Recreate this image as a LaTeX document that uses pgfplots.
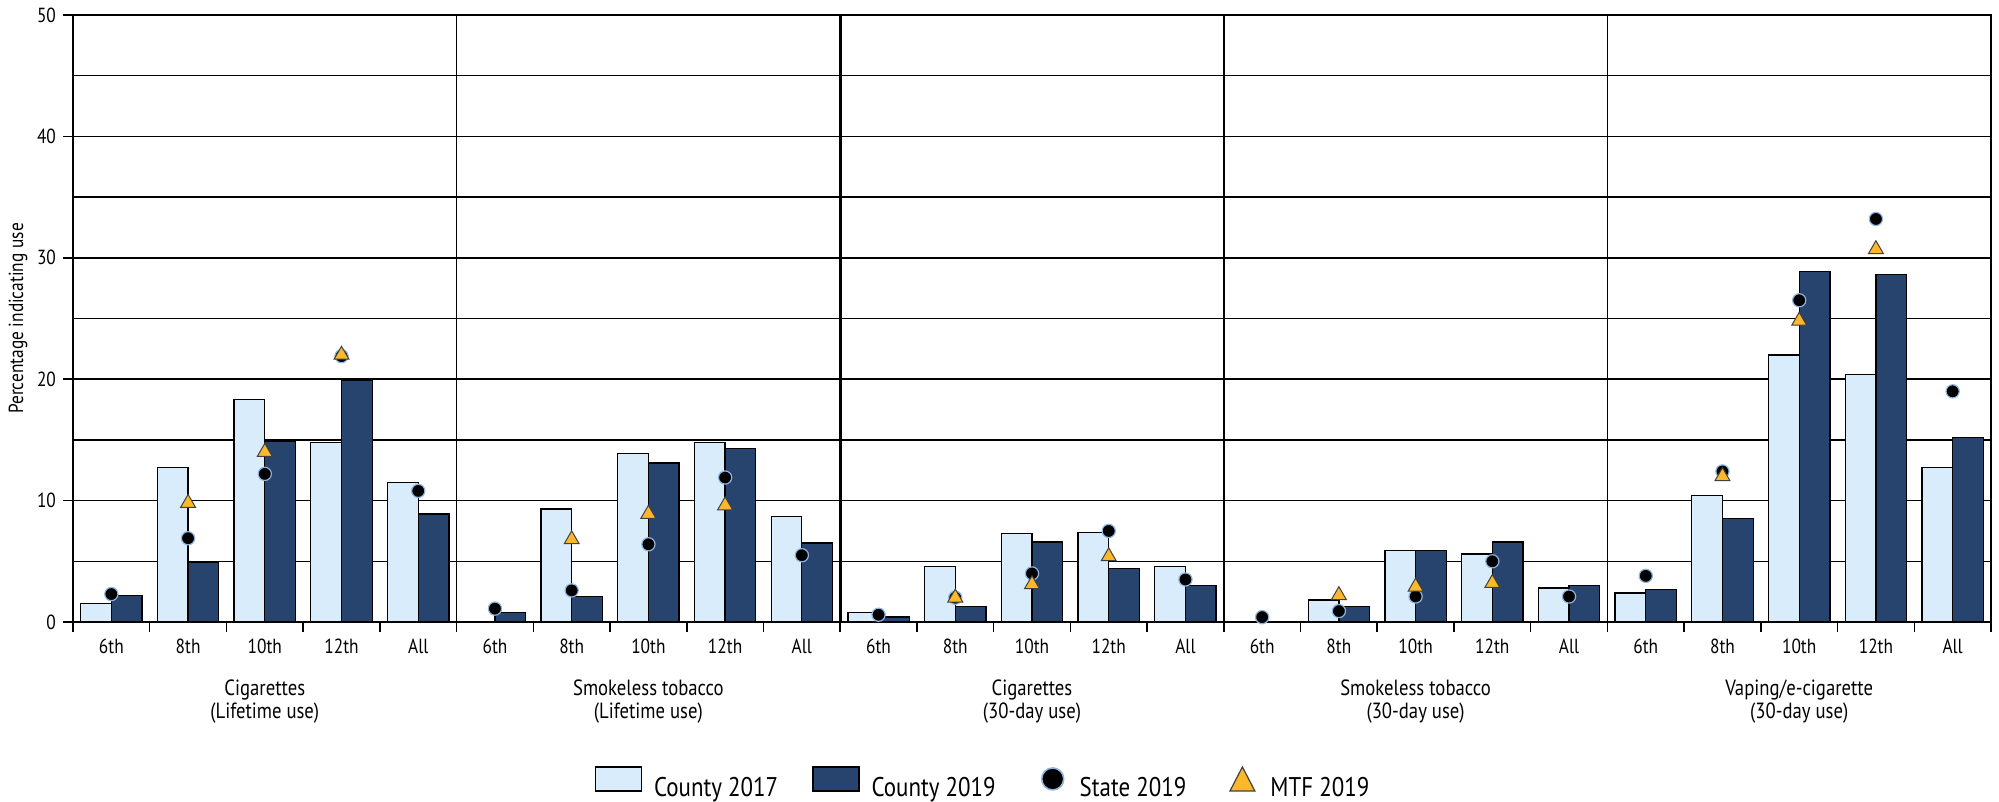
\documentclass[border=0pt]{standalone}
\usepackage{fontspec}
\setmainfont{PT Sans}[FakeStretch=0.85]
\usepackage{pgfplots}
\pgfplotsset{compat=1.18}
\usepackage{pgfplotstable}

\definecolor{cty17}{HTML}{D9ECFC}
\definecolor{cty19}{HTML}{26446E}
\definecolor{mtfor}{HTML}{FBB82B}
\definecolor{ring}{HTML}{8FB4DF}

% x: category index (5 grades x 5 substances)
\pgfplotstableread{
x  c17   c19   state mtf
0  1.5   2.2   2.3   nan
1  12.7  4.9   6.9   9.8
2  18.3  14.9  12.2  14.0
3  14.8  19.9  21.9  22.0
4  11.5  8.9   10.8  nan
5  nan   0.8   1.1   nan
6  9.3   2.1   2.6   6.8
7  13.9  13.1  6.4   8.9
8  14.8  14.3  11.9  9.6
9  8.7   6.5   5.5   nan
10 0.8   0.4   0.6   nan
11 4.6   1.3   2.0   2.0
12 7.3   6.6   4.0   3.1
13 7.4   4.4   7.5   5.4
14 4.6   3.0   3.5   nan
15 nan   nan   0.4   nan
16 1.8   1.3   0.9   2.2
17 5.9   5.9   2.1   2.9
18 5.6   6.6   5.0   3.2
19 2.8   3.0   2.1   nan
20 2.4   2.7   3.8   nan
21 10.4  8.5   12.4  12.0
22 22.0  28.9  26.5  24.8
23 20.4  28.6  33.2  30.7
24 12.7  15.2  19.0  nan
}\usedata

\tikzset{grp/.style={font=\fontsize{11}{11.5}\selectfont, align=center, anchor=north, inner sep=0pt, yshift=-28.5pt}}
\pgfplotsset{
  leg17/.style={legend image code/.code={\draw[fill=cty17, draw=black, line width=0.65pt] (0pt,-1.2pt) rectangle (23pt,10.8pt);}},
  leg19/.style={legend image code/.code={\draw[fill=cty19, draw=black, line width=0.65pt] (0pt,-1.2pt) rectangle (23pt,10.8pt);}},
  legstate/.style={legend image code/.code={\path[draw=none, fill=none] (0pt,0pt) -- (19pt,0pt); \path[fill=black, draw=ring, line width=0.8pt] (11.5pt,4.8pt) circle (5.5pt);}},
  legmtf/.style={legend image code/.code={\path[draw=none, fill=none] (0pt,0pt) -- (19pt,0pt); \path[fill=mtfor, draw=black!75, line width=0.6pt] (4.8pt,-1.2pt) -- (17.2pt,-1.2pt) -- (11pt,10.8pt) -- cycle;}},
}

\begin{document}
\begin{tikzpicture}
\begin{axis}[
  scale only axis,
  width=959pt, height=303.5pt,
  xmin=-0.5, xmax=24.5, ymin=0, ymax=50,
  clip=false,
  axis line style={line width=0.75pt},
  ytick={0,10,...,50},
  extra y ticks={5,15,...,45},
  extra y tick labels={},
  extra y tick style={major tick length=0pt},
  ymajorgrids,
  major grid style={black, line width=0.75pt},
  xtick={0,...,24},
  xticklabels={6th,8th,10th,12th,All,6th,8th,10th,12th,All,6th,8th,10th,12th,All,6th,8th,10th,12th,All,6th,8th,10th,12th,All},
  minor xtick={-0.5,0.5,...,24.5},
  major x tick style={draw=none},
  minor x tick style={black, line width=0.75pt},
  major y tick style={black, line width=0.75pt},
  xtick pos=bottom, ytick pos=left,
  tick align=outside,
  major tick length=5pt, minor tick length=5pt,
  tick label style={font=\fontsize{10.2}{11}\selectfont},
  /pgf/number format/assume math mode=true,
  every axis y label/.style={at={(axis description cs:0,0.5)}, xshift=-27.5pt, rotate=90, anchor=center, font=\fontsize{10.2}{11}\selectfont},
  ylabel={Percentage indicating use},
  legend columns=4,
  legend style={draw=none, at={(axis description cs:0.475,-0.2685)}, anchor=center,
    font=\fontsize{13.5}{16}\selectfont,
    /tikz/every odd column/.append style={column sep=4pt},
    /tikz/every even column/.append style={column sep=15pt}},
]
\addplot[ybar, bar width=0.4, bar shift=-0.2, fill=cty17, draw=black, line width=0.65pt, leg17]
  table[x=x, y=c17]{\usedata};
\addlegendentry{County 2017}
\addplot[ybar, bar width=0.4, bar shift=0.2, fill=cty19, draw=black, line width=0.65pt, leg19]
  table[x=x, y=c19]{\usedata};
\addlegendentry{County 2019}
\addplot[only marks, mark=*, mark size=3.3pt, mark options={fill=black, draw=ring, line width=0.6pt}, legstate]
  table[x=x, y=state]{\usedata};
\addlegendentry{State 2019}
\addplot[only marks, mark=triangle*, mark size=4.3pt, mark options={fill=mtfor, draw=black!75, line width=0.5pt}, legmtf]
  table[x=x, y=mtf]{\usedata};
\addlegendentry{MTF 2019}

\draw[line width=0.75pt] (axis cs:4.5,0) -- (axis cs:4.5,50);
\draw[line width=1.6pt] (axis cs:9.5,0) -- (axis cs:9.5,50);
\draw[line width=0.75pt] (axis cs:14.5,0) -- (axis cs:14.5,50);
\draw[line width=0.75pt] (axis cs:19.5,0) -- (axis cs:19.5,50);

\node[grp] at (axis cs:2,0) {Cigarettes\\(Lifetime use)};
\node[grp] at (axis cs:7,0) {Smokeless tobacco\\(Lifetime use)};
\node[grp] at (axis cs:12,0) {Cigarettes\\(30-day use)};
\node[grp] at (axis cs:17,0) {Smokeless tobacco\\(30-day use)};
\node[grp] at (axis cs:22,0) {Vaping/e-cigarette\\(30-day use)};

\coordinate (bl) at (rel axis cs:0,0);
\coordinate (tr) at (rel axis cs:1,1);
\end{axis}
\pgfresetboundingbox
\path[use as bounding box] ([shift={(-36.5pt,-90pt)}]bl) rectangle ([shift={(4pt,7.5pt)}]tr);
\end{tikzpicture}
\end{document}
